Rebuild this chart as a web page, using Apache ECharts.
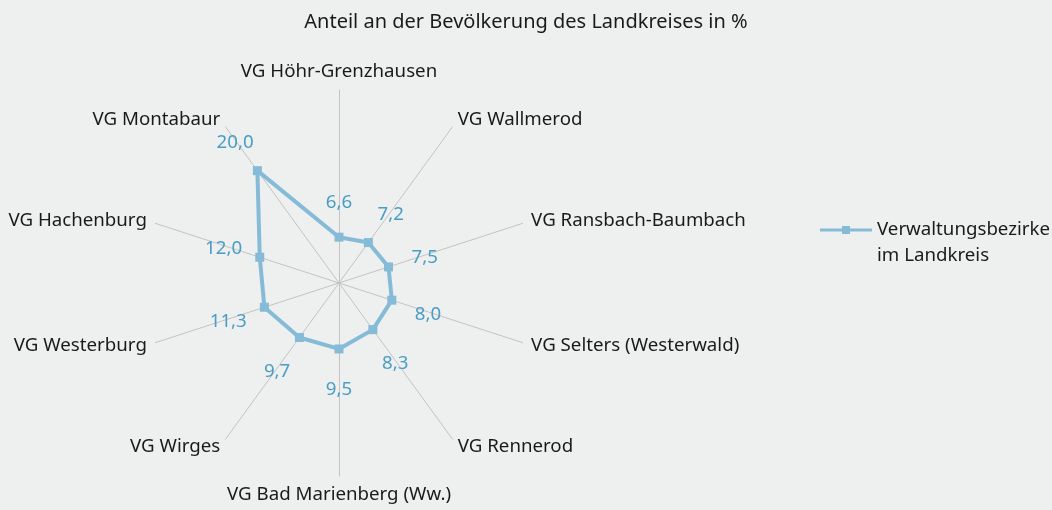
<!DOCTYPE html>
<html>
<head>
<meta charset="utf-8">
<script src="https://cdn.jsdelivr.net/npm/echarts@6/dist/echarts.min.js"></script>
<style>
  html, body { margin: 0; padding: 0; background: #eef0ef; }
  #chart { width: 1052px; height: 510px; }
</style>
</head>
<body>
<div id="chart"></div>
<script>
// Bezirke im Uhrzeigersinn, oben beginnend
const districts = ['VG Höhr-Grenzhausen', 'VG Wallmerod', 'VG Ransbach-Baumbach', 'VG Selters (Westerwald)', 'VG Rennerod',
  'VG Bad Marienberg (Ww.)', 'VG Wirges', 'VG Westerburg', 'VG Hachenburg', 'VG Montabaur'];
const shares = [6.6, 7.2, 7.5, 8.0, 8.3, 9.5, 9.7, 11.3, 12.0, 20.0];
const seriesName = 'Verwaltungsbezirke\nim Landkreis';
const titleText = 'Anteil an der Bevölkerung des Landkreises in %';
const axisMax = 27.8;

const FONT = 'Noto Sans';
const FS = 18.7;

// echarts legt die Achsen gegen den Uhrzeigersinn an -> Reihenfolge umdrehen
const order = [0].concat(districts.map((d, i) => i).slice(1).reverse());
const indicators = order.map(i => ({ name: districts[i], min: 0, max: axisMax }));
const values = order.map(i => shares[i]);

const fmt = v => v.toFixed(1).replace('.', ',');

// Datenbeschriftung ein Stück nach außen entlang der Achse schieben (per rich padding)
const labelDist = 38;
const rich = {};
order.forEach((_, k) => {
  const a = (90 + k * 360 / order.length) * Math.PI / 180;
  const dx = Math.cos(a) * labelDist, dy = -Math.sin(a) * labelDist + 3;
  rich['d' + k] = {
    color: '#4a9dc6', fontSize: FS, fontFamily: FONT,
    padding: [Math.max(dy, 0) * 2, Math.max(-dx, 0) * 2, Math.max(-dy, 0) * 2, Math.max(dx, 0) * 2]
  };
});

const chart = echarts.init(document.getElementById('chart'), null, { renderer: 'canvas' });
chart.setOption({
  backgroundColor: '#eef0ef',
  animation: false,
  title: {
    text: titleText,
    left: 'center',
    top: 7,
    textStyle: { fontFamily: FONT, fontSize: 20, fontWeight: 'normal', color: '#1a1a1a' }
  },
  legend: {
    data: [seriesName],
    orient: 'vertical',
    left: 820,
    top: 217,
    padding: 0,
    itemWidth: 52,
    itemHeight: 36,
    // Linie mit Quadrat, auf Höhe der ersten Textzeile
    icon: 'path://M0,0h0.1v0.1h-0.1z M0,3.5h52v3h-52z M22,1h8v8h-8z M0,35.9h0.1v0.1h-0.1z',
    itemStyle: { color: '#86bbd8', borderWidth: 0 },
    textStyle: { fontFamily: FONT, fontSize: FS, lineHeight: 26, color: '#1a1a1a' }
  },
  radar: {
    center: [339, 283],
    radius: 193,
    startAngle: 90,
    shape: 'polygon',
    splitNumber: 1,
    indicator: indicators,
    nameGap: 9,
    axisName: { fontFamily: FONT, fontSize: FS, color: '#1a1a1a' },
    axisLine: { lineStyle: { color: '#c3c3c3', width: 1 } },
    splitLine: { show: false },
    splitArea: { show: false },
    axisTick: { show: false },
    axisLabel: { show: false }
  },
  series: [{
    type: 'radar',
    name: seriesName,
    symbol: 'rect',
    symbolSize: 9,
    lineStyle: { color: '#86bbd8', width: 4 },
    itemStyle: { color: '#86bbd8' },
    label: {
      show: true,
      position: 'inside',
      formatter: p => {
        const k = values.indexOf(p.value);
        return '{d' + k + '|' + fmt(p.value) + '}';
      },
      rich: rich
    },
    data: [{ name: seriesName, value: values }]
  }]
});
</script>
</body>
</html>
